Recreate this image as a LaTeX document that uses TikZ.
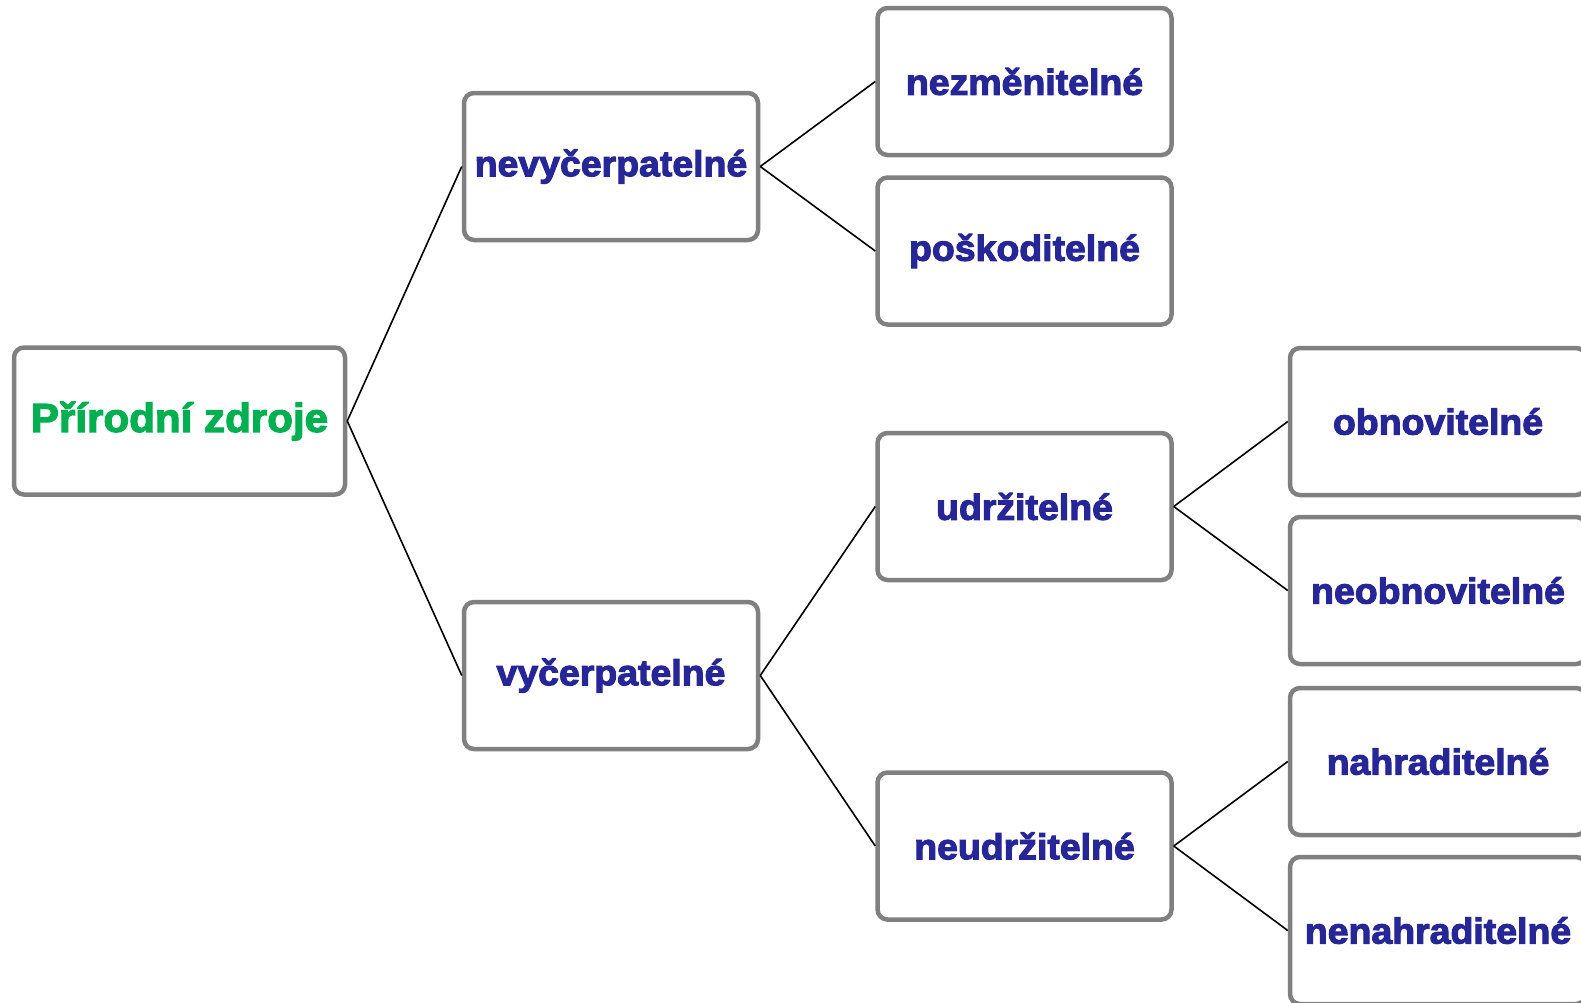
\documentclass[tikz,border=0pt]{standalone}
\usepackage{fontspec}
\newfontfamily\boxfont{Liberation Sans}[BoldFeatures={FakeBold=3,FakeStretch=1.04}]
\definecolor{txtblue}{RGB}{38,38,150}
\definecolor{txtgreen}{RGB}{0,176,80}
\definecolor{bordergray}{RGB}{128,128,128}
\begin{document}
\begin{tikzpicture}[x=1pt,y=-1pt,
  box/.style={draw=bordergray, line width=4.5pt, rounded corners=10pt, fill=white,
    minimum width=294pt, minimum height=147pt, inner sep=0pt,
    font=\boxfont\bfseries\fontsize{36}{40}\selectfont, text=txtblue},
  rootbox/.style={box, minimum width=331pt, text=txtgreen,
    font=\boxfont\bfseries\fontsize{40.5}{44}\selectfont},
  link/.style={line width=1.6pt, draw=black}]
\useasboundingbox (0,0) rectangle (1581,1002);
\node[rootbox] (root) at (179.5,421) {Přírodní zdroje};
\node[box] (nv) at (611,166.5) {nevyčerpatelné};
\node[box] (v) at (611,675.5) {vyčerpatelné};
\node[box] (nz) at (1024.5,81.5) {nezměnitelné};
\node[box] (po) at (1024.5,251) {poškoditelné};
\node[box] (ud) at (1024.5,506.5) {udržitelné};
\node[box] (nu) at (1024.5,846) {neudržitelné};
\node[box, minimum width=296pt] (ob) at (1438,421.5) {obnovitelné};
\node[box, minimum width=296pt] (neob) at (1438,590.5) {neobnovitelné};
\node[box, minimum width=296pt] (na) at (1438,761.5) {nahraditelné};
\node[box, minimum width=296pt] (nena) at (1438,930.5) {nenahraditelné};
\foreach \a/\b in {root/nv, root/v, nv/nz, nv/po, v/ud, v/nu, ud/ob, ud/neob, nu/na, nu/nena}
  \draw[link] (\a.east) -- (\b.west);
\end{tikzpicture}
\end{document}
